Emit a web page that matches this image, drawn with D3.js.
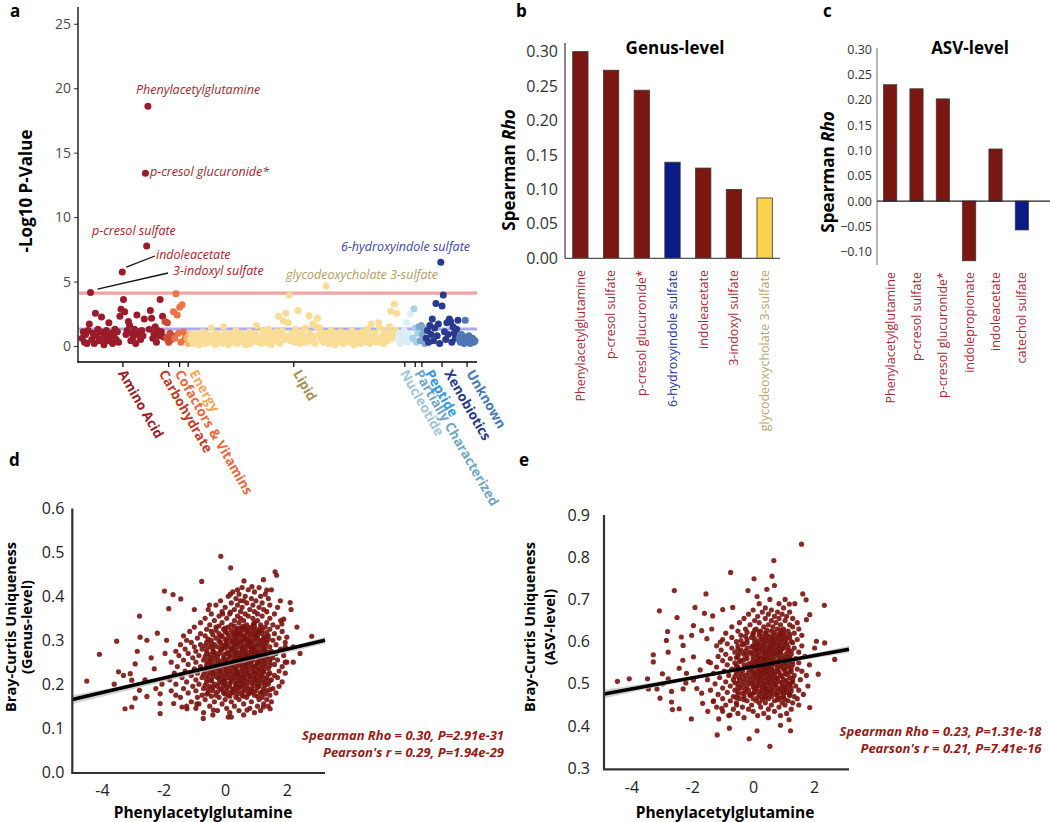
<!DOCTYPE html>
<html><head><meta charset="utf-8">
<script src="https://cdn.jsdelivr.net/npm/d3@7"></script>
<style>body{margin:0;background:#fff}svg{display:block}text{font-family:'Open Sans',sans-serif}</style>
</head><body>
<svg id="fig" width="1050" height="822"></svg>
<script>
// ---------------- DATA ----------------
// Panel a: -log10 p-values per metabolite, in plotting order, by super-pathway
const superPathways = ["Amino Acid","Carbohydrate","Cofactors & Vitamins","Energy","Lipid","Nucleotide","Partially Characterized","Peptide","Xenobiotics","Unknown"];
const aminoAcidP = [0.6,1.1,0.3,0.9,0.2,1.2,1.7,4.15,0.5,1.0,0.2,2.55,0.8,1.3,0.4,1.1,2.25,0.6,0.1,0.9,1.2,0.4,1.8,0.7,1.0,0.2,0.8,1.3,0.5,1.1,0.3,2.3,2.85,5.74,3.6,2.65,0.9,1.2,1.9,1.6,0.4,1.0,0.7,1.3,0.2,2.4,0.9,1.1,0.5,1.2,0.8,2.1,13.4,7.75,18.6,1.3,2.75,2.15,0.6,1.0,1.5,0.3,1.2,0.8,3.6,1.1,2.3,0.7];
const carbohydrateP = [1.9,0.6,1.8,0.3,1.0,0.5,0.8];
const cofactorsP = [2.65,0.6,4.05,2.4,1.0,3.0,0.3,3.2,1.1,0.5,0.8];
const energyP = [0.6,0.2,0.9];
const lipidP = [0.5,0.9,0.2,0.7,1.0,0.3,0.6,0.1,0.8,0.4, 1.1,0.5,0.2,0.9,0.6,0.3,0.8,1.4,0.4,0.7, 0.1,1.0,0.5,0.3,0.8,0.6,0.2,1.5,0.9,0.4, 0.7,0.1,1.0,0.5,0.3,0.8,0.6,1.2,0.2,0.9, 0.4,0.7,1.0,0.3,0.6,0.1,0.8,0.5,1.1,0.2, 0.9,0.4,0.6,1.0,1.6,0.3,0.7,0.5,0.2,1.2, 0.6,0.9,0.3,0.8,1.3,0.5,0.1,1.0,0.7,0.4, 1.1,0.6,2.3,0.2,0.9,1.2,1.95,0.5,2.55,0.8, 1.8,3.95,0.4,1.0,0.7,0.3,1.3,0.6,2.75,0.9, 0.2,1.1,0.5,0.8,1.4,0.3,0.6,2.35,1.0,0.4, 1.7,0.7,0.2,1.5,2.15,0.9,1.4,0.5,0.8,0.3, 1.0,4.65,0.6,0.2,0.9,1.2,0.4,0.7,0.1,1.0, 0.5,0.8,0.3,1.1,0.6,0.2,0.9,0.4,1.0,0.7, 0.3,0.8,1.2,0.5,0.1,0.9,0.6,0.4,1.0,0.2, 0.7,1.1,0.5,0.3,0.8,1.3,0.6,0.2,1.7,0.9, 0.4,1.0,0.6,0.3,1.8,1.4,0.5,0.8,0.2,1.1, 0.7,0.4,1.0,1.5,2.7,0.6,0.9,3.25,1.2,2.55];
const nucleotideP = [0.5,1.0,0.2,0.8,0.4,1.2,0.6,1.8,0.3,0.9,2.5,0.5];
const partiallyCharP = [0.6,2.9,1.4,0.3,1.0];
const peptideP = [1.5,0.4,1.6,0.9,1.3,0.2];
const xenobioticsP = [0.6,1.2,0.3,1.6,0.9,2.1,0.4,1.4,3.3,0.8,1.7,0.2,6.5,3.1,3.95,1.1,0.5,1.8,0.9,2.1,1.9,0.3,1.5,1.0,0.6,1.3,2.0];
const unknownP = [0.6,0.3,0.9,0.5,0.2,2.0,0.7,0.4,0.8,0.2,0.5,0.6,0.3,0.4];
const pValueTicks = [0,5,10,15,20,25];
const significanceLines = [4.1, 1.32];
// annotated metabolites: [label, pathway index, position in pathway]
const annotated = [["Phenylacetylglutamine",0,54],["p-cresol glucuronide*",0,52],["p-cresol sulfate",0,53],["indoleacetate",0,33],["3-indoxyl sulfate",0,7],["6-hydroxyindole sulfate",8,12],["glycodeoxycholate 3-sulfate",4,111]];

// Panel b: genus-level Spearman rho
const genusMetabolites = ["Phenylacetylglutamine","p-cresol sulfate","p-cresol glucuronide*","6-hydroxyindole sulfate","indoleacetate","3-indoxyl sulfate","glycodeoxycholate 3-sulfate"];
const genusRho = [0.300,0.273,0.244,0.1395,0.131,0.100,0.0876];
const genusPathway = ["Amino Acid","Amino Acid","Amino Acid","Xenobiotics","Amino Acid","Amino Acid","Lipid"];
const genusTicks = [0,0.05,0.10,0.15,0.20,0.25,0.30];

// Panel c: ASV-level Spearman rho
const asvMetabolites = ["Phenylacetylglutamine","p-cresol sulfate","p-cresol glucuronide*","indolepropionate","indoleacetate","catechol sulfate"];
const asvRho = [0.230,0.222,0.202,-0.118,0.103,-0.057];
const asvBarClass = ["Amino Acid","Amino Acid","Amino Acid","Amino Acid","Amino Acid","Xenobiotics"];
const asvTicks = [-0.10,-0.05,0,0.05,0.10,0.15,0.20,0.25,0.30];

// Panel d: genus-level uniqueness vs phenylacetylglutamine
const genusOutliers = [[-0.14,0.491],[0.18,0.465],[-0.76,0.434],[-1.97,0.412],[-1.69,0.404],[-1.44,0.394],[-2.78,0.355],[-3.52,0.298],[-4.08,0.268],[-4.49,0.207],[-3.25,0.144],[-3.03,0.148],[-2.11,0.133],[-0.71,0.122],[0.1,0.125],[0.2,0.125],[1.46,0.144],[2.81,0.309],[2.33,0.33],[2.43,0.27],[2.21,0.25],[1.62,0.456],[1.67,0.448],[1.24,0.438],[0.61,0.435],[-1.0,0.37],[-0.51,0.38],[-0.08,0.36],[0.17,0.364],[0.4,0.415],[0.87,0.422],[1.35,0.414],[1.79,0.39],[2.11,0.386],[2.14,0.37],[-1.83,0.372],[-2.2,0.316],[-2.54,0.3],[-2.76,0.307],[-2.92,0.246],[-3.08,0.224],[-3.46,0.228],[-3.03,0.209],[-2.78,0.186],[-2.92,0.168],[-2.54,0.172],[-2.11,0.178],[-2.11,0.156],[-1.67,0.156],[-1.4,0.148],[-1.24,0.144],[-0.92,0.155],[-0.38,0.141],[0.71,0.141],[1.24,0.148],[1.95,0.25],[2.21,0.285],[1.95,0.285],[2.0,0.307],[1.84,0.337],[1.9,0.348],[0.92,0.337],[0.49,0.39],[0.17,0.405],[-2.4,0.26],[-2.6,0.21],[-2.3,0.235],[-1.95,0.27],[-2.05,0.2],[-3.3,0.22],[-2.85,0.275],[-1.9,0.3],[-2.25,0.19],[-3.6,0.2]];
const genusCore = [[0.130,[-0.4,0.6]],[0.135,[-0.7,0.15,0.95]],[0.140,[-0.25,0.45,1.15]],[0.145,[-0.95,0.05,0.8]],[0.150,[-1.25,-0.5,0.3,1.05,1.4]],[0.155,[-0.85,-0.1,0.6,1.25]],[0.160,[-1.1,-0.35,0.2,0.85,1.5]],[0.165,[-0.65,0.0,0.45,1.1,1.35]],[0.170,[-1.45,-0.9,-0.2,0.35,0.7,1.2]],[0.175,[-1.6,-0.75,-0.3,0.1,0.55,0.95,1.45]],[0.180,[-1.2,-0.55,-0.05,0.25,0.8,1.15,1.65]],[0.185,[-1.75,-0.95,-0.4,0.05,0.4,0.65,1.0,1.35]],[0.190,[-1.35,-0.7,-0.15,0.3,0.75,1.25,1.55]],[0.195,[-1.05,-0.5,-0.25,0.15,0.5,0.9,1.1,1.75]],[0.200,[-1.6,-0.85,-0.35,0.0,0.35,0.6,1.05,1.4]],[0.205,[-1.25,-0.6,-0.1,0.2,0.7,0.95,1.3,1.85]],[0.210,[-1.8,-0.95,-0.45,-0.05,0.45,0.8,1.15,1.5]],[0.215,[-1.4,-0.75,-0.25,0.1,0.3,0.6,1.0,1.35,1.7]],[0.220,[-1.1,-0.55,-0.15,0.25,0.55,0.85,1.2,1.6]],[0.225,[-1.65,-0.9,-0.4,0.0,0.4,0.75,1.1,1.45,1.95]],[0.230,[-1.3,-0.65,-0.2,0.15,0.5,0.9,1.25,1.75]],[0.235,[-1.0,-0.5,-0.05,0.35,0.65,1.05,1.4]],[0.240,[-1.55,-0.8,-0.3,0.05,0.3,0.7,0.95,1.3,1.85]],[0.245,[-1.2,-0.6,-0.15,0.2,0.55,0.85,1.15,1.6]],[0.250,[-1.75,-0.95,-0.45,0.0,0.4,0.75,1.05,1.45,2.0]],[0.255,[-1.35,-0.7,-0.25,0.1,0.6,0.9,1.3,1.7]],[0.260,[-1.05,-0.5,-0.05,0.3,0.5,0.8,1.2,1.55]],[0.265,[-1.5,-0.85,-0.35,0.15,0.45,0.7,1.0,1.35,1.9]],[0.270,[-1.2,-0.6,-0.2,0.05,0.35,0.65,0.95,1.25,1.65]],[0.275,[-1.6,-0.95,-0.4,0.2,0.55,0.85,1.1,1.5]],[0.280,[-1.3,-0.75,-0.1,0.25,0.6,0.9,1.3,1.8]],[0.285,[-1.0,-0.5,-0.25,0.1,0.45,0.75,1.05,1.45]],[0.290,[-1.45,-0.8,-0.35,0.0,0.35,0.7,1.0,1.2,1.65]],[0.295,[-1.1,-0.6,-0.15,0.2,0.5,0.85,1.35,1.95]],[0.300,[-1.25,-0.45,0.05,0.4,0.65,0.95,1.15,1.55]],[0.305,[-0.9,-0.3,0.15,0.55,0.8,1.25,1.75]],[0.310,[-1.35,-0.65,-0.1,0.3,0.6,1.05,1.4]],[0.315,[-0.8,-0.2,0.25,0.5,0.9,1.2,1.6]],[0.320,[-1.15,-0.45,0.0,0.4,0.75,1.1,1.85]],[0.325,[-0.6,-0.05,0.35,0.65,1.0,1.45]],[0.330,[-1.0,-0.3,0.1,0.55,0.85,1.3,1.7]],[0.335,[-0.5,0.2,0.7,1.15,1.55]],[0.340,[-0.8,-0.1,0.45,0.95,1.35]],[0.345,[-0.35,0.3,0.6,1.05,1.8]],[0.350,[-0.65,0.05,0.5,0.9,1.45]],[0.355,[-0.2,0.4,0.75,1.2]],[0.360,[-0.45,0.15,0.65,1.05,1.6]],[0.365,[-0.1,0.5,0.95,1.35]],[0.370,[-0.55,0.3,0.8,1.25]],[0.375,[0.0,0.55,1.1,1.7]],[0.380,[-0.3,0.4,0.9,1.45]],[0.385,[0.2,0.7,1.2]],[0.390,[-0.15,0.6,1.0]],[0.395,[0.35,0.85,1.4]],[0.400,[0.1,0.65,1.15]],[0.405,[0.45,1.3]],[0.410,[0.25,0.95]],[0.415,[0.75,1.5]],[0.420,[0.55,1.1]]];
const genusCoreDense = [[0.1725,[-0.45,0.15,0.6,1.05]],[0.1775,[-0.6,0.0,0.4,0.75,1.3]],[0.1825,[-0.25,0.2,0.55,0.9,1.2]],[0.1875,[-0.55,-0.1,0.25,0.85,1.45]],[0.1925,[-0.4,0.05,0.45,0.6,1.05]],[0.1975,[-0.65,-0.05,0.35,0.7,1.3]],[0.2025,[-0.2,0.15,0.5,0.85,1.2]],[0.2075,[-0.45,0.0,0.35,0.55,1.05,1.45]],[0.2125,[-0.6,-0.2,0.2,0.65,0.95,1.3]],[0.2175,[-0.4,-0.05,0.45,0.8,1.15]],[0.2225,[-0.7,-0.3,0.1,0.4,0.7,1.0,1.4]],[0.2275,[-0.5,-0.15,0.25,0.6,0.95,1.25]],[0.2325,[-0.35,0.05,0.35,0.75,1.1]],[0.2375,[-0.6,-0.2,0.2,0.55,0.85,1.2]],[0.2425,[-0.45,-0.05,0.45,0.65,1.0,1.45]],[0.2475,[-0.3,0.05,0.35,0.7,1.05,1.3]],[0.2525,[-0.55,-0.15,0.25,0.5,0.85,1.2]],[0.2575,[-0.4,0.0,0.4,0.75,1.1,1.45]],[0.2625,[-0.65,-0.25,0.15,0.65,0.95,1.35]],[0.2675,[-0.5,-0.05,0.3,0.55,0.85,1.15]],[0.2725,[-0.35,0.1,0.45,0.75,1.05,1.4]],[0.2775,[-0.6,-0.15,0.35,0.65,0.95,1.25]],[0.2825,[-0.4,0.0,0.2,0.55,0.85,1.2]],[0.2875,[-0.65,-0.1,0.3,0.6,0.9,1.3]],[0.2925,[-0.45,0.05,0.4,0.75,1.1]],[0.2975,[-0.2,0.25,0.55,0.8,1.25]],[0.3025,[-0.55,0.0,0.3,0.7,1.05,1.4]],[0.3075,[-0.15,0.4,0.65,0.95,1.3]],[0.3125,[-0.4,0.1,0.45,0.8,1.0]],[0.3175,[0.05,0.35,0.7,1.05,1.35]],[0.3225,[-0.3,0.2,0.55,0.9,1.2]],[0.3275,[0.0,0.45,0.75,1.15]],[0.3325,[-0.2,0.3,0.6,0.95]]];
const genusFit = [[-4.96,0.165],[3.24,0.300]];
const genusFitCI = [[-4.96,0.155,0.175],[0.3,0.244,0.250],[3.24,0.292,0.308]];
const genusStats = ["Spearman Rho = 0.30, P=2.91e-31","Pearson's r = 0.29, P=1.94e-29"];
const genusYTicks = [0,0.1,0.2,0.3,0.4,0.5,0.6];

// Panel e: ASV-level uniqueness vs phenylacetylglutamine
const asvOutliers = [[1.59,0.831],[0.68,0.792],[-0.74,0.764],[0.03,0.749],[0.62,0.755],[0.70,0.733],[0.45,0.724],[-0.17,0.721],[0.13,0.707],[-2.59,0.721],[-1.55,0.713],[-1.91,0.681],[-3.08,0.673],[-2.5,0.657],[-1.6,0.667],[-1.33,0.661],[-1.0,0.676],[-0.67,0.681],[2.34,0.686],[1.74,0.699],[1.63,0.713],[1.19,0.689],[-2.81,0.624],[-2.85,0.603],[-2.36,0.611],[-2.3,0.591],[-2.79,0.575],[-3.28,0.569],[-3.28,0.552],[-2.98,0.524],[-2.79,0.512],[-2.97,0.5],[-3.16,0.488],[-3.47,0.512],[-3.44,0.488],[-4.46,0.506],[-4.07,0.512],[-3.06,0.466],[-2.68,0.457],[-2.65,0.439],[-2.43,0.441],[-2.68,0.482],[-2.3,0.488],[-2.03,0.417],[-1.49,0.435],[-1.13,0.417],[-0.78,0.395],[-1.18,0.379],[-0.13,0.37],[0.13,0.389],[0.55,0.352],[0.9,0.402],[1.23,0.389],[1.18,0.415],[1.86,0.444],[2.14,0.523],[2.68,0.558],[2.35,0.597],[2.08,0.601],[2.02,0.585],[1.86,0.664],[1.75,0.652],[1.37,0.69],[-1.96,0.638],[-1.69,0.626],[-1.36,0.63],[-1.52,0.607],[-1.08,0.599],[-2.02,0.615],[-1.96,0.564],[-2.31,0.556],[-2.43,0.537],[-2.19,0.525],[-2.21,0.502],[-1.96,0.509],[-1.85,0.489],[-1.69,0.478],[-1.66,0.454],[-1.31,0.458],[-1.03,0.442],[-0.76,0.426],[-0.54,0.45],[-1.74,0.533],[-1.47,0.553]];
const asvCore = [[0.420,[-0.3,0.5]],[0.425,[-0.8,0.15,0.9]],[0.430,[-0.5,0.35,1.1]],[0.435,[-1.0,0.0,0.7]],[0.440,[-0.65,-0.15,0.5,1.25]],[0.445,[-1.2,-0.35,0.25,0.85]],[0.450,[-0.9,-0.05,0.6,1.05,1.5]],[0.455,[-0.55,0.2,0.4,0.95,1.3]],[0.460,[-1.3,-0.75,-0.2,0.1,0.7,1.15]],[0.465,[-1.0,-0.45,0.0,0.5,0.85,1.45]],[0.470,[-0.65,-0.3,0.3,0.6,1.0,1.35]],[0.475,[-1.15,-0.5,-0.1,0.2,0.75,1.2,1.65]],[0.480,[-0.85,-0.25,0.05,0.45,0.9,1.1]],[0.485,[-1.4,-0.6,-0.15,0.3,0.6,1.0,1.5]],[0.490,[-1.0,-0.4,0.1,0.4,0.8,1.25]],[0.495,[-0.75,-0.2,0.2,0.55,0.95,1.4,1.8]],[0.500,[-1.25,-0.5,-0.05,0.35,0.7,1.1]],[0.505,[-0.9,-0.3,0.0,0.5,0.85,1.3]],[0.510,[-1.5,-0.65,-0.15,0.25,0.6,1.0,1.55]],[0.515,[-1.1,-0.45,0.1,0.4,0.75,1.2]],[0.520,[-0.8,-0.25,0.2,0.55,0.9,1.35,1.75]],[0.525,[-1.3,-0.55,0.0,0.3,0.65,1.05]],[0.530,[-0.95,-0.35,0.15,0.45,0.8,1.25,1.6]],[0.535,[-0.7,-0.1,0.35,0.6,1.0,1.45]],[0.540,[-1.2,-0.5,-0.2,0.25,0.5,0.9,1.15]],[0.545,[-0.85,-0.3,0.05,0.4,0.75,1.3,1.85]],[0.550,[-1.4,-0.6,-0.05,0.3,0.65,1.05,1.5]],[0.555,[-1.0,-0.4,0.15,0.55,0.85,1.2]],[0.560,[-0.75,-0.2,0.25,0.45,0.95,1.4]],[0.565,[-1.15,-0.5,0.0,0.35,0.7,1.1,1.7]],[0.570,[-0.9,-0.3,0.1,0.6,0.8,1.25]],[0.575,[-0.6,-0.1,0.3,0.5,0.9,1.5]],[0.580,[-1.05,-0.4,0.05,0.4,0.75,1.15]],[0.585,[-0.7,-0.2,0.2,0.65,1.0,1.35]],[0.590,[-1.2,-0.5,0.0,0.35,0.55,0.85,1.6]],[0.595,[-0.85,-0.3,0.15,0.7,1.1]],[0.600,[-0.55,0.05,0.45,0.8,1.25]],[0.605,[-1.0,-0.2,0.3,0.6,0.95,1.45]],[0.610,[-0.7,-0.05,0.5,0.85,1.2]],[0.615,[-0.4,0.2,0.7,1.05,1.6]],[0.620,[-0.9,0.0,0.4,0.9,1.35]],[0.625,[-0.5,0.25,0.6,1.15]],[0.630,[-0.25,0.1,0.8,1.0,1.5]],[0.635,[-0.7,0.35,0.65,1.3]],[0.640,[-0.1,0.5,0.9,1.2]],[0.645,[-0.45,0.2,0.75,1.45]],[0.650,[0.05,0.6,1.05]],[0.655,[-0.3,0.4,0.85,1.3]],[0.660,[0.15,0.7,1.1]],[0.665,[-0.15,0.5,0.95]],[0.670,[0.3,0.8,1.2]],[0.675,[0.0,0.6]],[0.680,[0.4,1.0]],[0.690,[0.2,0.85]],[0.700,[0.55,1.05]]];
const asvCoreDense = [[0.4625,[-0.3,0.3,0.8,1.05]],[0.4675,[-0.55,0.15,0.4,0.95]],[0.4725,[-0.1,0.45,0.8,1.2]],[0.4775,[-0.35,0.0,0.35,0.6,1.0]],[0.4825,[-0.5,0.2,0.55,0.75,1.25]],[0.4875,[-0.25,0.05,0.45,0.9,1.1]],[0.4925,[-0.5,0.0,0.3,0.65,1.05]],[0.4975,[-0.35,0.1,0.4,0.75,1.2]],[0.5025,[-0.6,-0.15,0.2,0.55,0.95,1.25]],[0.5075,[-0.45,0.15,0.35,0.7,1.1]],[0.5125,[-0.3,0.0,0.5,0.8,1.3]],[0.5175,[-0.6,-0.1,0.25,0.6,0.95]],[0.5225,[-0.4,0.05,0.4,0.7,1.1]],[0.5275,[-0.15,0.2,0.5,0.85,1.2]],[0.5325,[-0.5,0.0,0.3,0.65,1.05]],[0.5375,[-0.3,0.15,0.45,0.8,1.25]],[0.5425,[-0.55,-0.05,0.35,0.6,1.0]],[0.5475,[-0.15,0.2,0.55,0.9,1.15]],[0.5525,[-0.45,0.1,0.4,0.75,1.3]],[0.5575,[-0.3,0.0,0.35,0.65,1.05]],[0.5625,[-0.55,0.15,0.55,0.85,1.2]],[0.5675,[-0.2,0.2,0.45,0.95]],[0.5725,[-0.45,-0.05,0.4,0.7,1.1]],[0.5775,[-0.25,0.15,0.6,0.85,1.25]],[0.5825,[-0.5,0.1,0.3,0.55,0.95]],[0.5875,[-0.05,0.45,0.8,1.15]],[0.5925,[-0.35,0.1,0.25,0.65,1.0]],[0.5975,[-0.2,0.35,0.55,0.9,1.3]],[0.6025,[-0.4,0.2,0.65,1.05]],[0.6075,[0.05,0.4,0.75,1.1]],[0.6125,[-0.25,0.3,0.6,0.95]],[0.6175,[0.0,0.45,0.85,1.2]],[0.6225,[-0.2,0.2,0.7,1.0]],[0.6275,[0.05,0.45,0.9]]];
const asvFit = [[-4.9,0.476],[3.15,0.582]];
const asvFitCI = [[-4.9,0.466,0.486],[0.3,0.541,0.547],[3.15,0.574,0.590]];
const asvStats = ["Spearman Rho = 0.23, P=1.31e-18","Pearson's r = 0.21, P=7.41e-16"];
const asvYTicks = [0.3,0.4,0.5,0.6,0.7,0.8,0.9];
const scatterXTicks = [-4,-2,0,2];
const xMetabolite = "Phenylacetylglutamine";

// ---------------- STYLES ----------------
const pointColor = {"Amino Acid":"#9b1b2b","Carbohydrate":"#cd4a33","Cofactors & Vitamins":"#ea7448","Energy":"#f6b469","Lipid":"#f9dc96","Nucleotide":"#dcedf5","Partially Characterized":"#a6d2e6","Peptide":"#79a9cf","Xenobiotics":"#283a8f","Unknown":"#4d78b3"};
const labelColor = {"Amino Acid":"#9b1b2b","Carbohydrate":"#c13a27","Cofactors & Vitamins":"#e9673d","Energy":"#f4a655","Lipid":"#a89157","Nucleotide":"#a3c5d5","Partially Characterized":"#6ea7c5","Peptide":"#2f98e3","Xenobiotics":"#25378d","Unknown":"#4777b8"};
const labelNudge = {"Amino Acid":0,"Carbohydrate":-5,"Cofactors & Vitamins":0,"Energy":6,"Lipid":4,"Nucleotide":0,"Partially Characterized":4,"Peptide":8,"Xenobiotics":7,"Unknown":4};
const annColor = {"Amino Acid":"#a61e2e","Lipid":"#b39c5e","Xenobiotics":"#3d45a6"};
const barFill = {"Amino Acid":"#7b1711","Xenobiotics":"#0b1b84","Lipid":"#f9d449"};
const barLabel = {"Amino Acid":"#a8283a","Xenobiotics":"#2330a0","Lipid":"#b5a66c"};
const scatterColor = "#7a130d";

const svg = d3.select("#fig");

// panel letters
[["a",10,16.5],["b",516,16.5],["c",823,16.5],["d",9,466],["e",519,466]].forEach(([t,x,y])=>{
  svg.append("text").attr("x",x).attr("y",y).text(t).attr("font-family","'DejaVu Sans',sans-serif").attr("font-size",17).attr("font-weight",700).attr("fill","#000");
});

// ---------------- PANEL A ----------------
(function(){
  const series = [aminoAcidP,carbohydrateP,cofactorsP,energyP,lipidP,nucleotideP,partiallyCharP,peptideP,xenobioticsP,unknownP];
  const pts=[], ranges=[]; let idx=0;
  series.forEach((vals,ci)=>{const s=idx; vals.forEach((v,k)=>pts.push({i:idx++,v,cat:superPathways[ci],ci,k})); ranges.push([s,idx-1]);});
  const x = d3.scaleLinear().domain([0,idx-1]).range([82,475]);
  const y = d3.scaleLinear().domain([-1.24,26.3]).range([362,7]);
  const g = svg.append("g");
  significanceLines.forEach((v,j)=>{
    g.append("line").attr("x1",79).attr("x2",477).attr("y1",y(v)).attr("y2",y(v))
      .attr("stroke", j===0?"#f2a3a3":"#a9a9f7").attr("stroke-width",3.2);
  });
  g.selectAll("circle.m").data(pts).join("circle").attr("class","m")
    .attr("cx",d=>x(d.i)).attr("cy",d=>y(d.v)).attr("r",3.5).attr("fill",d=>pointColor[d.cat]);
  const ya = g.append("g").attr("transform","translate(78,0)")
    .call(d3.axisLeft(y).tickValues(pValueTicks).tickSize(4).tickPadding(3));
  ya.select(".domain").remove();
  ya.selectAll(".tick line").attr("stroke","#333");
  ya.selectAll(".tick text").attr("font-family","'Liberation Sans',Arial,sans-serif").attr("font-size",14).attr("fill","#4d4d4d");
  g.append("line").attr("x1",78).attr("x2",78).attr("y1",7).attr("y2",362.5).attr("stroke","#000").attr("stroke-width",1.3);
  g.append("line").attr("x1",77.5).attr("x2",477).attr("y1",362).attr("y2",362).attr("stroke","#000").attr("stroke-width",1.3);
  ranges.forEach((r,ci)=>{
    const cx = x((r[0]+r[1])/2), name = superPathways[ci];
    g.append("line").attr("x1",cx).attr("x2",cx).attr("y1",362).attr("y2",367).attr("stroke","#000").attr("stroke-width",1.2);
    g.append("text").attr("transform",`translate(${cx-1+labelNudge[name]},371) rotate(60)`).attr("dy","0.35em")
      .attr("font-size",13.5).attr("font-weight",700).attr("fill",labelColor[name]).text(name);
  });
  g.append("text").attr("transform","translate(26,191) rotate(-90)").attr("text-anchor","middle").attr("dy","0.35em")
    .attr("font-size",17).attr("font-weight",700).text("-Log10 P-Value");
  const pos = {"Phenylacetylglutamine":[136,94],"p-cresol glucuronide*":[150,176],"p-cresol sulfate":[92,235],"indoleacetate":[156,259],"3-indoxyl sulfate":[173,275],"6-hydroxyindole sulfate":[341,251],"glycodeoxycholate 3-sulfate":[286,279]};
  annotated.forEach(([name,ci,k])=>{
    const p = pts.find(d=>d.ci===ci && d.k===k);
    const [tx,ty] = pos[name];
    g.append("text").attr("x",tx).attr("y",ty).attr("font-size",12.5).attr("font-style","italic")
      .attr("fill",annColor[superPathways[ci]]).text(name);
    if(name==="indoleacetate") g.append("line").attr("x1",x(p.i)+4).attr("y1",y(p.v)-5).attr("x2",tx-1).attr("y2",ty-3).attr("stroke","#111").attr("stroke-width",1.3);
    if(name==="3-indoxyl sulfate") g.append("line").attr("x1",x(p.i)+7).attr("y1",y(p.v)-3.5).attr("x2",tx-5).attr("y2",ty-2).attr("stroke","#111").attr("stroke-width",1.3);
  });
})();

// ---------------- BAR PANELS ----------------
function barPanel(o){
  const g = svg.append("g");
  const x = d3.scaleBand().domain(o.names).range(o.xr).paddingInner(0.5).paddingOuter(0.25);
  const y = d3.scaleLinear().domain(o.yd).range(o.yr);
  const ya = g.append("g").attr("transform",`translate(${o.xr[0]},0)`)
    .call(d3.axisLeft(y).tickValues(o.ticks).tickSize(0).tickPadding(o.tickPad).tickFormat(d3.format(".2f")));
  ya.select(".domain").remove();
  ya.selectAll(".tick text").attr("font-size",o.tickFont).attr("fill","#333");
  g.selectAll("rect").data(o.names).join("rect")
    .attr("x",d=>x(d)).attr("width",x.bandwidth())
    .attr("y",(d,i)=>y(Math.max(0,o.vals[i]))).attr("height",(d,i)=>Math.abs(y(o.vals[i])-y(0)))
    .attr("fill",(d,i)=>barFill[o.cls[i]]).attr("stroke","#3a3a3a").attr("stroke-width",0.8);
  g.append("line").attr("x1",o.xr[0]).attr("x2",o.xr[0]).attr("y1",o.yr[1]).attr("y2",o.yr[0]).attr("stroke",o.axisColor).attr("stroke-width",1.4);
  g.append("line").attr("x1",o.xr[0]).attr("x2",o.zeroLineTo).attr("y1",y(0)).attr("y2",y(0)).attr("stroke",o.zeroColor).attr("stroke-width",1.3);
  o.names.forEach((n,i)=>{
    g.append("text").attr("transform",`translate(${x(n)+x.bandwidth()/2},${o.labelTop}) rotate(-90)`)
      .attr("text-anchor","end").attr("dy","0.35em").attr("font-size",12.5).attr("fill",barLabel[o.labelCls[i]]).text(n);
  });
  g.append("text").attr("x",o.titleX).attr("y",54).attr("text-anchor","middle").attr("font-size",17).attr("font-weight",700).text(o.title);
  const yt = g.append("text").attr("transform",`translate(${o.ytitleX},${o.ytitleY}) rotate(-90)`).attr("text-anchor","middle")
    .attr("dy","0.35em").attr("font-size",17).attr("font-weight",700);
  yt.append("tspan").text("Spearman ");
  yt.append("tspan").attr("font-style","italic").text("Rho");
}
barPanel({names:genusMetabolites,vals:genusRho,cls:genusPathway,labelCls:genusPathway,xr:[565,780],yd:[0,0.3125],yr:[258.3,43],
  ticks:genusTicks,tickFont:16,tickPad:7,axisColor:"#555",zeroColor:"#555",title:"Genus-level",titleX:675,ytitleX:509,ytitleY:170,labelTop:270,zeroLineTo:780});
barPanel({names:asvMetabolites,vals:asvRho,cls:asvBarClass,labelCls:asvMetabolites.map(()=>"Amino Acid"),xr:[877,1035],yd:[-0.1263,0.3026],yr:[265,48],
  ticks:asvTicks,tickFont:12.5,tickPad:5,axisColor:"#999",zeroColor:"#222",title:"ASV-level",titleX:970,ytitleX:828,ytitleY:172,labelTop:272,zeroLineTo:1050});

// ---------------- SCATTER PANELS ----------------
function scatterPanel(o){
  const g = svg.append("g");
  const x = d3.scaleLinear().domain(o.xd).range(o.xr);
  const y = d3.scaleLinear().domain(o.yd).range(o.yr);
  const rowsToPts = rows => rows.flatMap(([yy,xs])=>xs.map(xx=>[xx,yy]));
  const pts = o.outliers.concat(rowsToPts(o.core), rowsToPts(o.dense));
  g.selectAll("circle").data(pts).join("circle").attr("cx",d=>x(d[0])).attr("cy",d=>y(d[1])).attr("r",2.6)
    .attr("fill",scatterColor).attr("fill-opacity",0.9);
  const area = d3.area().x(d=>x(d[0])).y0(d=>y(d[1])).y1(d=>y(d[2])).curve(d3.curveMonotoneX);
  g.append("path").attr("d",area(o.ci)).attr("fill","#bdbdbd").attr("fill-opacity",0.7);
  g.append("path").attr("d",d3.line().x(d=>x(d[0])).y(d=>y(d[1]))(o.fit)).attr("stroke","#000").attr("stroke-width",3.6).attr("fill","none");
  const ya = g.append("g").attr("transform",`translate(${o.xr[0]},0)`)
    .call(d3.axisLeft(y).tickValues(o.yTicks).tickSize(0).tickPadding(o.yPad).tickFormat(d3.format(".1f")));
  ya.select(".domain").remove();
  ya.selectAll(".tick text").attr("font-size",16).attr("fill","#222");
  const xa = g.append("g").attr("transform",`translate(0,${o.yr[0]})`)
    .call(d3.axisBottom(x).tickValues(scatterXTicks).tickSize(0).tickPadding(13).tickFormat(d=>String(d)));
  xa.select(".domain").remove();
  xa.selectAll(".tick text").attr("font-size",16).attr("fill","#222");
  g.append("line").attr("x1",o.xr[0]).attr("x2",o.xr[0]).attr("y1",o.yr[1]).attr("y2",o.yr[0]+1).attr("stroke","#333").attr("stroke-width",2.2);
  g.append("line").attr("x1",o.xr[0]-1).attr("x2",o.xr[1]).attr("y1",o.yr[0]+1).attr("y2",o.yr[0]+1).attr("stroke","#333").attr("stroke-width",2.2);
  g.append("text").attr("x",o.xlabX).attr("y",818).attr("text-anchor","middle").attr("font-size",15.5).attr("font-weight",700).text(xMetabolite);
  o.ylab.forEach((t,i)=>{
    g.append("text").attr("transform",`translate(${o.ylabX[i]},627) rotate(-90)`).attr("text-anchor","middle")
      .attr("font-size",14.5).attr("font-weight",700).text(t);
  });
  o.stats.forEach((t,i)=>{
    g.append("text").attr("x",o.statX).attr("y",o.statY[i]).attr("text-anchor","end").attr("font-size",13)
      .attr("font-weight",700).attr("font-style","italic").attr("fill","#941b15").text(t);
  });
}
scatterPanel({outliers:genusOutliers,core:genusCore,dense:genusCoreDense,fit:genusFit,ci:genusFitCI,xd:[-4.96,3.24],xr:[72.3,325],yd:[0,0.6],yr:[772,508.5],
  yTicks:genusYTicks,yPad:8,xlabX:203,ylab:["Bray-Curtis Uniqueness","(Genus-level)"],ylabX:[15.5,32],stats:genusStats,statX:504,statY:[740,757]});
scatterPanel({outliers:asvOutliers,core:asvCore,dense:asvCoreDense,fit:asvFit,ci:asvFitCI,xd:[-4.9,3.15],xr:[604,849],yd:[0.3,0.9],yr:[768.3,515],
  yTicks:asvYTicks,yPad:14,xlabX:725,ylab:["Bray-Curtis Uniqueness","(ASV-level)"],ylabX:[535,555],stats:asvStats,statX:1041.5,statY:[736,753]});
</script>
</body></html>
